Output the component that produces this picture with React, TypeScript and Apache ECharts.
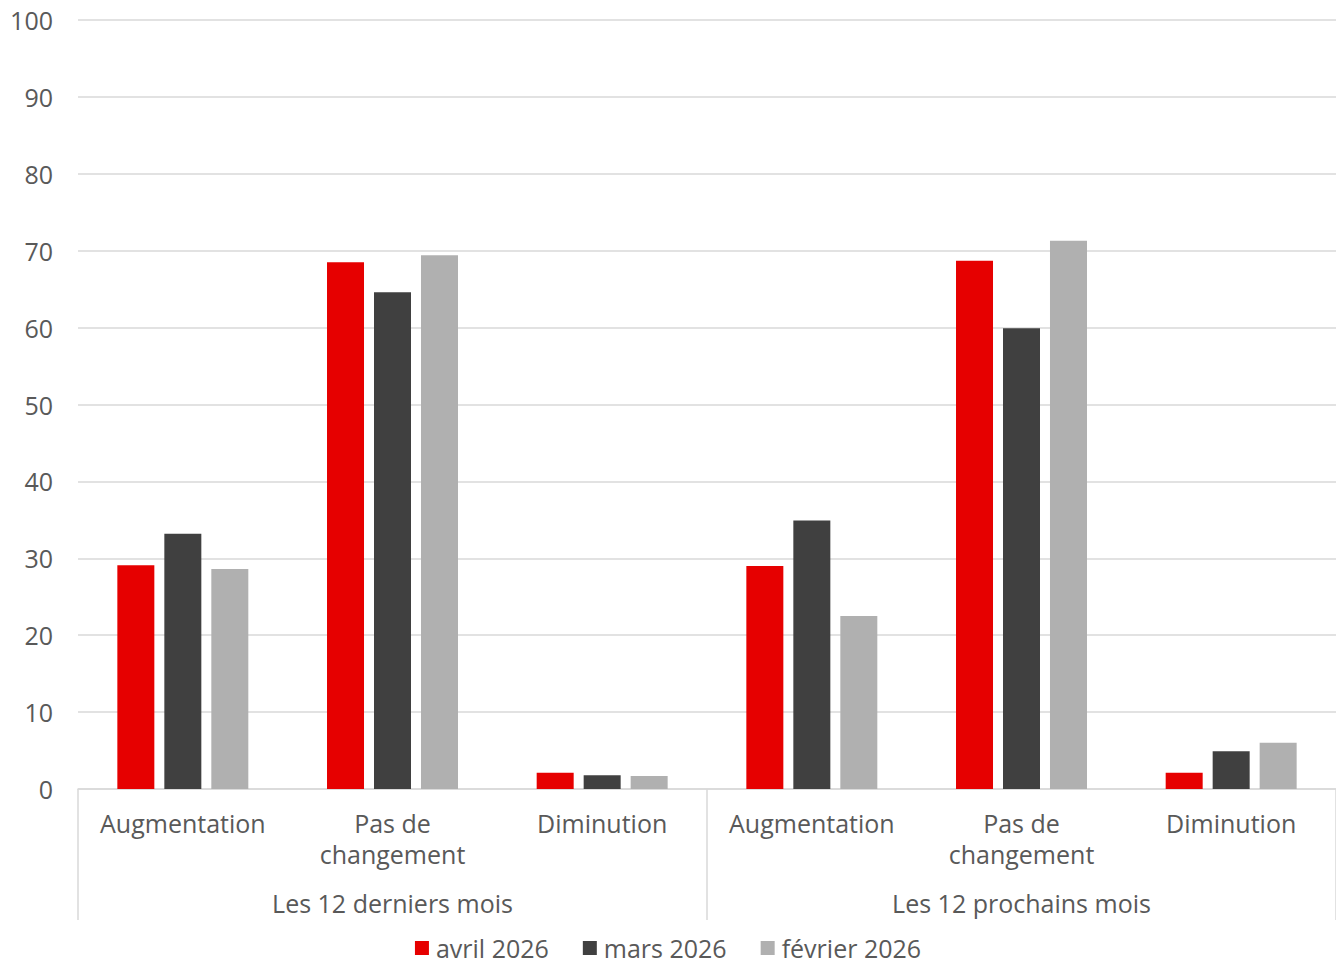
import React, { useEffect, useRef } from "react";
import * as echarts from "echarts";

const categories = ["Augmentation", "Pas de\nchangement", "Diminution", "Augmentation", "Pas de\nchangement", "Diminution"];
const groups = ["Les 12 derniers mois", "Les 12 prochains mois"];
const seriesNames = ["avril 2026", "mars 2026", "février 2026"];
const avril = [29.1, 68.5, 2.1, 29.0, 68.7, 2.1];
const mars = [33.2, 64.6, 1.8, 34.9, 59.9, 4.9];
const fevrier = [28.6, 69.4, 1.7, 22.5, 71.3, 6.0];
const colors = ["#E60000", "#404040", "#B0B0B0"];

const FONT = "'Open Sans', 'Noto Sans', sans-serif";
const TEXT = "#595959";

export default function App() {
  const ref = useRef<HTMLDivElement>(null);
  useEffect(() => {
    document.body.style.margin = "0";
    const chart = echarts.init(ref.current!, null, { renderer: "svg" });
    const values = [avril, mars, fevrier];
    chart.setOption({
      animation: false,
      textStyle: { fontFamily: FONT },
      grid: { left: 78, right: -6, top: 20, bottom: 177, containLabel: false },
      legend: {
        top: 930,
        left: "center",
        icon: "rect",
        itemWidth: 14,
        itemHeight: 14,
        itemGap: 34,
        textStyle: { fontSize: 25, lineHeight: 26, color: TEXT, fontFamily: FONT, padding: [0, 0, 0, 2] },
        data: seriesNames,
      },
      xAxis: [
        {
          type: "category",
          data: categories,
          axisLine: { show: true, lineStyle: { color: "#d9d9d9", width: 1.5 } },
          axisTick: { show: false },
          axisLabel: { color: TEXT, fontSize: 25, margin: 18, lineHeight: 31, interval: 0, fontFamily: FONT },
        },
        {
          type: "category",
          data: groups,
          position: "bottom",
          axisLine: { show: false },
          axisTick: { show: true, length: 131, lineStyle: { color: "#d9d9d9", width: 1.5 } },
          axisLabel: { color: TEXT, fontSize: 25, margin: 101, interval: 0, fontFamily: FONT },
        },
      ],
      yAxis: {
        type: "value",
        min: 0,
        max: 100,
        interval: 10,
        axisLine: { show: false },
        axisTick: { show: false },
        splitLine: { lineStyle: { color: "#d9d9d9", width: 1.5 } },
        axisLabel: { color: TEXT, fontSize: 25, margin: 25, fontFamily: FONT },
      },
      series: seriesNames.map((name, i) => ({
        name,
        type: "bar",
        xAxisIndex: 0,
        data: values[i],
        barWidth: 37,
        barGap: "27%",
        itemStyle: { color: colors[i] },
      })),
    });
    return () => chart.dispose();
  }, []);
  return <div ref={ref} style={{ width: 1336, height: 966 }} />;
}
